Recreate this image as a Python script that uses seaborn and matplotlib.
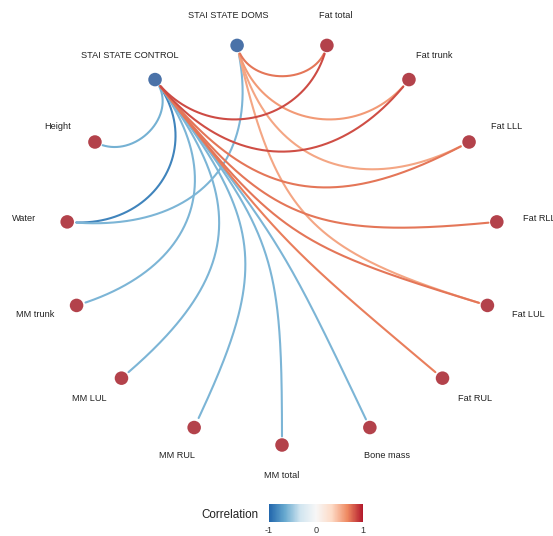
import numpy as np
import pandas as pd
import matplotlib
matplotlib.use("Agg")
import matplotlib.pyplot as plt
import seaborn as sns
from matplotlib.colors import LinearSegmentedColormap, Normalize
from matplotlib.cm import ScalarMappable

# --- data ---
nodes = ["STAI STATE DOMS", "Fat total", "Fat trunk", "Fat LLL", "Fat RLL",
         "Fat LUL", "Fat RUL", "Bone mass", "MM total", "MM RUL", "MM LUL",
         "MM trunk", "Water", "Height", "STAI STATE CONTROL"]
node_group = ["anxiety"] + ["body"] * 13 + ["anxiety"]

edge_from = ["STAI STATE CONTROL"] * 13 + ["STAI STATE DOMS"] * 5
edge_to = ["Height", "Water", "MM trunk", "MM LUL", "MM RUL", "MM total", "Bone mass",
           "Fat total", "Fat trunk", "Fat LLL", "Fat RLL", "Fat LUL", "Fat RUL",
           "Water", "Fat total", "Fat trunk", "Fat LLL", "Fat LUL"]
edge_r = [-0.62, -0.85, -0.6, -0.6, -0.6, -0.6, -0.6,
          0.85, 0.84, 0.72, 0.72, 0.72, 0.7,
          -0.6, 0.72, 0.6, 0.55, 0.55]

# brewer RdBu (7 classes), reversed: blue = -1, red = +1
rdbu = ["#2166ac", "#67a9cf", "#d1e5f0", "#f7f7f7", "#fddbc7", "#ef8a62", "#b2182b"]
cmap = LinearSegmentedColormap.from_list("rdbu7", rdbu)

sns.set_theme(style="white")
plt.rcParams["font.family"] = ["Liberation Sans", "DejaVu Sans"]
plt.rcParams["axes.unicode_minus"] = False

# circular layout (clockwise from the top)
ang = np.deg2rad(-12 + 24 * np.arange(len(nodes)))
node_df = pd.DataFrame({"name": nodes, "group": node_group,
                        "x": np.sin(ang), "y": np.cos(ang)})
pos = node_df.set_index("name")[["x", "y"]]

# pixel scale of one data unit, used to cut edges short of the nodes
sx, sy = 216, 202

rows = []
t = np.linspace(0, 1, 200)[:, None]
for i, (a, b, r) in enumerate(zip(edge_from, edge_to, edge_r)):
    p0 = pos.loc[a].values
    p3 = pos.loc[b].values
    # control points pulled toward the centre, more for longer chords
    k = np.linalg.norm(p3 - p0) / 2
    p1 = p0 * (1 - k)
    p2 = p3 * (1 - k)
    pts = ((1 - t) ** 3) * p0 + 3 * ((1 - t) ** 2) * t * p1 + 3 * (1 - t) * t ** 2 * p2 + t ** 3 * p3
    d0 = np.hypot((pts[:, 0] - p0[0]) * sx, (pts[:, 1] - p0[1]) * sy)
    d3 = np.hypot((pts[:, 0] - p3[0]) * sx, (pts[:, 1] - p3[1]) * sy)
    keep = (d0 > 8) & (d3 > 8)
    for x, y in pts[keep]:
        rows.append({"edge": i, "x": x, "y": y, "r": r})
edge_df = pd.DataFrame(rows)

fig = plt.figure(figsize=(5.53, 5.36), dpi=100)
ax = fig.add_axes([0, 0, 1, 1])

sns.lineplot(data=edge_df, x="x", y="y", hue="r", units="edge", estimator=None,
             sort=False, palette=cmap, hue_norm=(-1, 1), linewidth=1.5,
             legend=False, ax=ax)
sns.scatterplot(data=node_df, x="x", y="y", hue="group",
                palette={"anxiety": "#4A72A8", "body": "#B3424B"},
                s=95, linewidth=0, legend=False, zorder=3, ax=ax)

for name, a in zip(nodes, ang):
    ax.text(1.2 * np.sin(a), 1.149 * np.cos(a), name, ha="center", va="center",
            fontsize=6.6, color="#222222")

ax.set_xlim(-282 / sx, (553 - 282) / sx)
ax.set_ylim(-(536 - 243) / sy, 243 / sy)
ax.axis("off")

# colour bar
cax = fig.add_axes([269 / 553, 1 - 522 / 536, 94 / 553, 18 / 536])
cb = fig.colorbar(ScalarMappable(norm=Normalize(-1, 1), cmap=cmap), cax=cax,
                  orientation="horizontal", ticks=[-1, 0, 1])
cb.outline.set_visible(False)
cax.tick_params(labelsize=6.6, length=3, color="white", direction="in",
                pad=3, labelcolor="#333333")
fig.text(259 / 553, 1 - 515 / 536, "Correlation", ha="right", va="center",
         fontsize=8.4, color="#222222")

fig.savefig("out.png", dpi=100)
